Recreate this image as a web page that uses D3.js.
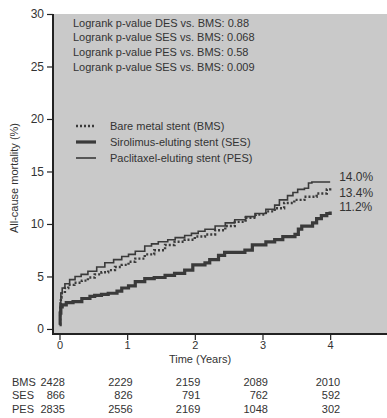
<!DOCTYPE html>
<html>
<head>
<meta charset="utf-8">
<script src="https://cdn.jsdelivr.net/npm/d3@7"></script>
<style>
  body { margin: 0; background: #fff; }
  svg text { font-family: "Liberation Sans", Arial, sans-serif; fill: #333; }
</style>
</head>
<body>
<div id="chart"></div>
<script>
// Kaplan-Meier style curves, [years, mortality %]
var bms = [[0,0.5],[0.01,2.0],[0.02,3.0],[0.03,3.4],[0.08,3.9],[0.13,4.2],[0.22,4.4],[0.33,4.6],[0.42,4.9],
  [0.52,5.2],[0.62,5.4],[0.72,5.6],[0.82,5.9],[0.92,6.1],[1.02,6.4],[1.12,6.7],[1.26,7.1],[1.4,7.5],[1.56,8.0],
  [1.7,8.3],[1.85,8.5],[2.0,8.8],[2.15,9.0],[2.3,9.4],[2.45,9.8],[2.59,10.2],[2.75,10.6],[2.9,10.9],[3.05,11.2],
  [3.18,11.5],[3.32,12.0],[3.47,12.3],[3.62,12.6],[3.8,12.9],[3.95,13.3],[4.0,13.4]];
var ses = [[0,0.4],[0.01,1.5],[0.02,2.1],[0.04,2.3],[0.1,2.5],[0.2,2.6],[0.33,2.9],[0.45,3.1],[0.52,3.2],
  [0.62,3.3],[0.72,3.4],[0.85,3.6],[0.92,3.9],[1.02,4.1],[1.12,4.5],[1.26,4.8],[1.4,4.9],[1.56,5.1],[1.7,5.3],
  [1.85,5.6],[1.97,6.1],[2.15,6.3],[2.22,6.6],[2.35,7.0],[2.44,7.3],[2.74,7.5],[2.85,8.0],[3.05,8.3],[3.18,8.5],
  [3.3,8.8],[3.48,9.0],[3.53,9.5],[3.58,9.8],[3.74,10.1],[3.8,10.5],[3.87,10.8],[3.95,11.0],[4.0,11.2]];
var pes = [[0,0.5],[0.01,2.5],[0.02,3.4],[0.04,3.9],[0.08,4.3],[0.15,4.7],[0.23,5.0],[0.32,5.2],[0.42,5.5],
  [0.55,5.9],[0.67,6.3],[0.8,6.6],[0.92,6.9],[1.02,7.1],[1.12,7.4],[1.26,7.9],[1.36,8.1],[1.46,8.3],[1.6,8.5],
  [1.71,8.7],[1.85,8.9],[1.95,9.1],[2.05,9.3],[2.15,9.5],[2.3,9.8],[2.45,10.1],[2.59,10.4],[2.75,10.7],[2.89,11.0],
  [3.05,11.4],[3.18,11.8],[3.25,12.3],[3.37,12.7],[3.45,13.0],[3.52,13.3],[3.62,13.4],[3.68,13.9],[3.73,14.0],[4.0,14.0]];

var end_labels = ["14.0%", "13.4%", "11.2%"];
var logrank_lines = [
  "Logrank p-value DES vs. BMS: 0.88",
  "Logrank p-value SES vs. BMS: 0.068",
  "Logrank p-value PES vs. BMS: 0.58",
  "Logrank p-value SES vs. BMS: 0.009"
];
var legend_names = ["Bare metal stent (BMS)", "Sirolimus-eluting stent (SES)", "Paclitaxel-eluting stent (PES)"];

// numbers at risk
var risk_years = [0, 1, 2, 3, 4];
var risk_groups = ["BMS", "SES", "PES"];
var risk_bms = [2428, 2229, 2159, 2089, 2010];
var risk_ses = [866, 826, 791, 762, 592];
var risk_pes = [2835, 2556, 2169, 1048, 302];

var W = 387, H = 418;
var m_left = 53, m_top = 14, m_right = 387, m_bottom = 334;
var line_col = "#3a3a3a";

var svg = d3.select("#chart").append("svg")
  .attr("width", W)
  .attr("height", H);

var x = d3.scaleLinear().domain([-0.096, 4.84]).range([m_left, m_right]);
var y = d3.scaleLinear().domain([-0.48, 30]).range([m_bottom, m_top]);

//gray plot panel
svg.append("rect")
  .attr("x", m_left)
  .attr("y", m_top)
  .attr("width", m_right - m_left)
  .attr("height", m_bottom - m_top)
  .attr("fill", "#c9c9c9");

//axes
var y_axis = d3.axisLeft(y).tickValues([0, 5, 10, 15, 20, 25, 30]).tickSize(6).tickPadding(3);
var gy = svg.append("g").attr("transform", "translate(" + m_left + ",0)").call(y_axis);
gy.select(".domain").remove();
gy.selectAll("line").attr("stroke", "#222").attr("stroke-width", 1.2);
gy.selectAll("text").style("font-size", "12px").style("font-family", "Liberation Sans, Arial, sans-serif").attr("fill", "#333");

var x_axis = d3.axisBottom(x).tickValues([0, 1, 2, 3, 4]).tickFormat(d3.format("d")).tickSize(6).tickPadding(1);
var gx = svg.append("g").attr("transform", "translate(0," + m_bottom + ")").call(x_axis);
gx.select(".domain").remove();
gx.selectAll("line").attr("stroke", "#222").attr("stroke-width", 1.2);
gx.selectAll("text").style("font-size", "11px").style("font-family", "Liberation Sans, Arial, sans-serif").attr("fill", "#333");

svg.append("line")
  .attr("x1", m_left).attr("x2", m_left)
  .attr("y1", m_top).attr("y2", m_bottom + 1)
  .attr("stroke", "#222").attr("stroke-width", 2);
svg.append("line")
  .attr("x1", m_left - 1).attr("x2", m_right)
  .attr("y1", m_bottom).attr("y2", m_bottom)
  .attr("stroke", "#222").attr("stroke-width", 2);

//axis titles
svg.append("text")
  .attr("transform", "translate(18,178) rotate(-90)")
  .attr("text-anchor", "middle")
  .style("font-size", "11px")
  .text("All-cause mortality (%)");

svg.append("text")
  .attr("x", 200)
  .attr("y", 363)
  .attr("text-anchor", "middle")
  .style("font-size", "11px")
  .text("Time (Years)");

//curves
var line = d3.line()
  .x(function(d){ return x(d[0]); })
  .y(function(d){ return y(d[1]); })
  .curve(d3.curveStepAfter);

var styles = [
  {data: bms, width: 2.4, dash: "2,2"},
  {data: ses, width: 3.2, dash: null},
  {data: pes, width: 1.6, dash: null}
];

styles.forEach(function(s){
  svg.append("path")
    .datum(s.data)
    .attr("d", line)
    .attr("fill", "none")
    .attr("stroke", line_col)
    .attr("stroke-width", s.width)
    .attr("stroke-dasharray", s.dash);
});

//end values (PES, BMS, SES from top)
var end_y = [176.7, 192.7, 207.3];
end_labels.forEach(function(t, i){
  svg.append("text")
    .attr("x", x(4) + 9)
    .attr("y", end_y[i] + 4)
    .style("font-size", "12px")
    .text(t);
});

//logrank text
svg.selectAll(".logrank")
  .data(logrank_lines)
  .enter()
  .append("text")
  .attr("class", "logrank")
  .attr("x", 73)
  .attr("y", function(d, i){ return 26.5 + i * 14.7; })
  .style("font-size", "11px")
  .text(function(d){ return d; });

//legend
styles.forEach(function(s, i){
  var ly = 126 + i * 16;
  svg.append("line")
    .attr("x1", 76).attr("x2", 96)
    .attr("y1", ly).attr("y2", ly)
    .attr("stroke", line_col)
    .attr("stroke-width", s.width)
    .attr("stroke-dasharray", s.dash);
  svg.append("text")
    .attr("x", 110)
    .attr("y", ly + 4)
    .style("font-size", "11px")
    .text(legend_names[i]);
});

//numbers at risk table
var risk_rows = [risk_bms, risk_ses, risk_pes];
risk_rows.forEach(function(row, r){
  var ry = 385.5 + r * 13.7;
  svg.append("text")
    .attr("x", 12)
    .attr("y", ry)
    .style("font-size", "11px")
    .text(risk_groups[r]);
  row.forEach(function(v, i){
    svg.append("text")
      .attr("x", x(risk_years[i]) + (i == 4 ? 10 : 5.5))
      .attr("y", ry)
      .attr("text-anchor", "end")
      .style("font-size", "11px")
      .text(v);
  });
});
</script>
</body>
</html>
